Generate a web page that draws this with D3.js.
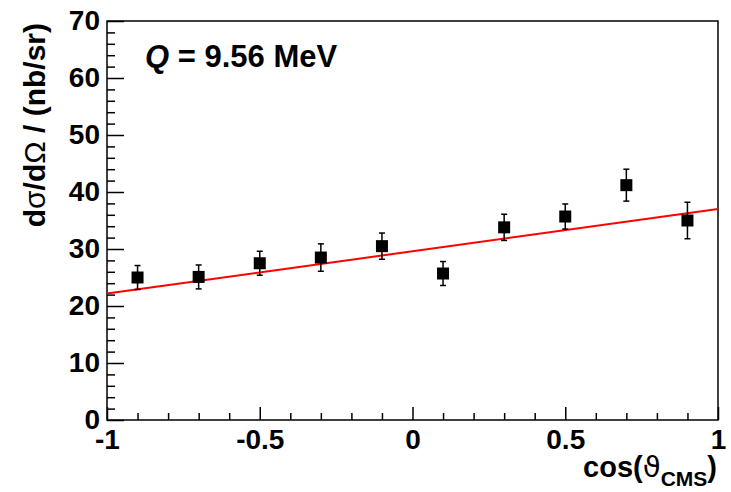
<!DOCTYPE html>
<html>
<head>
<meta charset="utf-8">
<script src="https://cdn.jsdelivr.net/npm/d3@7"></script>
<style>
  body { margin: 0; background: #fff; }
  svg { display: block; font-family: "Liberation Sans", Arial, sans-serif; font-weight: bold; }
</style>
</head>
<body>
<svg></svg>
<script>
// measured points
let cosTheta = [-0.9, -0.7, -0.5, -0.3, -0.1, 0.1, 0.3, 0.5, 0.7, 0.9]
let xsec = [25.0, 25.1, 27.5, 28.5, 30.5, 25.7, 33.8, 35.7, 41.2, 35.0]
let xsecErr = [2.1, 2.1, 2.1, 2.4, 2.3, 2.1, 2.3, 2.2, 2.8, 3.2]

// linear fit p0 + p1*x
let fitRange = [-1, 1]
let fitParams = [29.6, 7.4]

let xMajor = [-1, -0.5, 0, 0.5, 1]
let xMinor = d3.range(-10, 11).map(i => i / 10)
let yMajor = [0, 10, 20, 30, 40, 50, 60, 70]
let yMinor = d3.range(0, 36).map(i => i * 2)

let width = 731
let height = 492
let padL = 107, padR = 718, padT = 21, padB = 420

let svg = d3.select('svg').attr('width', width).attr('height', height)

let x = d3.scaleLinear().domain([-1, 1]).range([padL, padR])
let y = d3.scaleLinear().domain([0, 70]).range([padB, padT])

let fmt = d => String(d)

// axes
let gx = svg.append('g').attr('transform', `translate(0,${padB})`)
gx.call(d3.axisBottom(x).tickValues(xMinor.filter(v => !xMajor.some(m => Math.abs(m - v) < 1e-9))).tickSize(-7).tickFormat(''))
let gx2 = svg.append('g').attr('transform', `translate(0,${padB})`)
  .call(d3.axisBottom(x).tickValues(xMajor).tickSize(-13).tickPadding(9).tickFormat(fmt))

let gy = svg.append('g').attr('transform', `translate(${padL},0)`)
gy.call(d3.axisLeft(y).tickValues(yMinor.filter(v => v % 10 !== 0)).tickSize(-8).tickFormat(''))
let gy2 = svg.append('g').attr('transform', `translate(${padL},0)`)
  .call(d3.axisLeft(y).tickValues(yMajor).tickSize(-17).tickPadding(7).tickFormat(fmt))

svg.selectAll('.domain').remove()
svg.selectAll('.tick line').attr('stroke', '#000').attr('stroke-width', 1.5)
svg.selectAll('.tick text')
   .attr('font-size', 28).attr('font-family', '"Liberation Sans", Arial, sans-serif')
   .attr('font-weight', 'bold').attr('fill', '#000')

// frame
svg.append('rect')
   .attr('x', padL).attr('y', padT)
   .attr('width', padR - padL).attr('height', padB - padT)
   .attr('fill', 'none').attr('stroke', '#000').attr('stroke-width', 1.5)

// fit line
svg.append('line')
   .attr('x1', x(fitRange[0])).attr('y1', y(fitParams[0] + fitParams[1] * fitRange[0]))
   .attr('x2', x(fitRange[1])).attr('y2', y(fitParams[0] + fitParams[1] * fitRange[1]))
   .attr('stroke', '#ff0000').attr('stroke-width', 2)

// error bars
let pts = cosTheta.map((c, i) => ({c: c, v: xsec[i], e: xsecErr[i]}))
let eb = svg.append('g').attr('stroke', '#000').attr('stroke-width', 1.5)
eb.selectAll('line.v').data(pts).join('line').attr('class', 'v')
  .attr('x1', d => x(d.c)).attr('x2', d => x(d.c))
  .attr('y1', d => y(d.v - d.e)).attr('y2', d => y(d.v + d.e))
eb.selectAll('line.t').data(pts).join('line').attr('class', 't')
  .attr('x1', d => x(d.c) - 3).attr('x2', d => x(d.c) + 3)
  .attr('y1', d => y(d.v + d.e)).attr('y2', d => y(d.v + d.e))
eb.selectAll('line.b').data(pts).join('line').attr('class', 'b')
  .attr('x1', d => x(d.c) - 3).attr('x2', d => x(d.c) + 3)
  .attr('y1', d => y(d.v - d.e)).attr('y2', d => y(d.v - d.e))

// markers
let ms = 12
svg.append('g').selectAll('rect').data(pts).join('rect')
   .attr('x', d => x(d.c) - ms / 2).attr('y', d => y(d.v) - ms / 2)
   .attr('width', ms).attr('height', ms).attr('fill', '#000')

// label
let q = svg.append('text').attr('x', 145).attr('y', 67).attr('font-size', 31)
q.append('tspan').attr('font-style', 'italic').text('Q')
q.append('tspan').text(' = 9.56 MeV')

// axis titles
let xt = svg.append('text').attr('x', 717).attr('y', 477).attr('text-anchor', 'end').attr('font-size', 29)
xt.append('tspan').text('cos(')
xt.append('tspan').attr('font-weight', 'normal').attr('font-family', '"DejaVu Sans", sans-serif').text('ϑ')
xt.append('tspan').attr('font-size', 21).attr('dy', 9).text('CMS')
xt.append('tspan').attr('dy', -9).text(')')

let yt = svg.append('text')
   .attr('transform', 'translate(45,23) rotate(-90)')
   .attr('text-anchor', 'end').attr('font-size', 30)
yt.append('tspan').text('d')
yt.append('tspan').attr('font-weight', 'normal').text('σ')
yt.append('tspan').text('/d')
yt.append('tspan').attr('font-weight', 'normal').text('Ω')
yt.append('tspan').text(' / (nb/sr)')
</script>
</body>
</html>
